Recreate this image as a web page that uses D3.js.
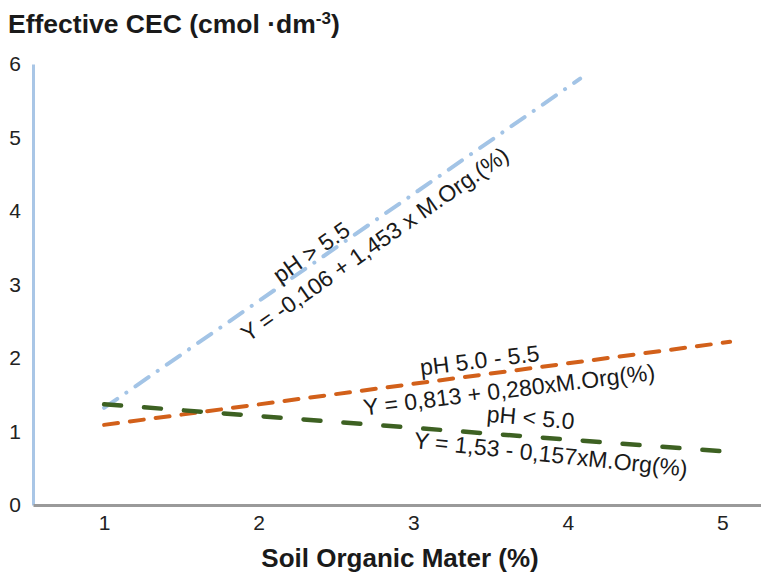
<!DOCTYPE html>
<html>
<head>
<script src="https://d3js.org/d3.v7.min.js"></script>
<style>
  body { margin: 0; background: #fff; }
  svg { font-family: "Liberation Sans", Arial, sans-serif; }
  .tick text { font-size: 21px; fill: #222; }
</style>
</head>
<body>
<svg width="761" height="573"></svg>
<script>
// fitted regression lines, endpoints
const xTicks = [1, 2, 3, 4, 5];
const yTicks = [0, 1, 2, 3, 4, 5, 6];
const phHigh = [{ x: 1, y: 1.32 }, { x: 4.08, y: 5.8 }];
const phMid = [{ x: 1, y: 1.09 }, { x: 5.05, y: 2.22 }];
const phLow = [{ x: 1, y: 1.37 }, { x: 5, y: 0.73 }];

const svg = d3.select("svg");

const x = d3.scaleLinear().domain([0.54, 5.25]).range([33, 761]);
const y = d3.scaleLinear().domain([0, 6]).range([505, 64]);

const line = d3.line().x(d => x(d.x)).y(d => y(d.y));

// axes
const yAxis = svg.append("g")
  .attr("transform", "translate(33,0)")
  .call(d3.axisLeft(y).tickValues(yTicks).tickFormat(d3.format("d")).tickSize(0).tickPadding(12));
yAxis.select(".domain").attr("stroke", "#a9c6e6").attr("stroke-width", 3);

const xAxis = svg.append("g")
  .attr("transform", "translate(0,505)")
  .call(d3.axisBottom(x).tickValues(xTicks).tickFormat(d3.format("d")).tickSize(0).tickPadding(10));
xAxis.select(".domain").attr("stroke", "#9a9a9a").attr("stroke-width", 3);

// series
svg.append("path").datum(phHigh)
  .attr("d", line).attr("fill", "none")
  .attr("stroke", "#a3c4e6").attr("stroke-width", 4)
  .attr("stroke-linecap", "round")
  .attr("stroke-dasharray", "16 11 0.1 11");

svg.append("path").datum(phMid)
  .attr("d", line).attr("fill", "none")
  .attr("stroke", "#d2601a").attr("stroke-width", 4)
  .attr("stroke-linecap", "round")
  .attr("stroke-dasharray", "14 12");

svg.append("path").datum(phLow)
  .attr("d", line).attr("fill", "none")
  .attr("stroke", "#3d6122").attr("stroke-width", 4.5)
  .attr("stroke-linecap", "round")
  .attr("stroke-dasharray", "17 23");

// equation labels
const labels = [
  { t: "pH > 5.5", x: 2.34, y: 3.44, a: -35 },
  { t: "Y = -0,106 + 1,453 x M.Org.(%)", x: 2.75, y: 3.55, a: -35 },
  { t: "pH 5.0 - 5.5", x: 3.43, y: 1.97, a: -7 },
  { t: "Y = 0,813 + 0,280xM.Org(%)", x: 3.62, y: 1.57, a: -7 },
  { t: "pH < 5.0", x: 3.76, y: 1.19, a: 5 },
  { t: "Y = 1,53 - 0,157xM.Org(%)", x: 3.89, y: 0.69, a: 6 }
];

svg.selectAll(".lab").data(labels).join("text")
  .attr("class", "lab")
  .attr("transform", d => `translate(${x(d.x)},${y(d.y)}) rotate(${d.a})`)
  .attr("text-anchor", "middle")
  .attr("dy", "0.35em")
  .style("font-size", "23px")
  .attr("fill", "#1a1a1a")
  .text(d => d.t);

// titles
const title = svg.append("text")
  .attr("x", 8).attr("y", 33)
  .style("font-size", "26.5px").style("font-weight", "bold")
  .attr("fill", "#1a1a1a")
  .text("Effective CEC (cmol \u00b7dm");
title.append("tspan").attr("dy", -9).style("font-size", "17px").text("-3");
title.append("tspan").attr("dy", 9).text(")");

svg.append("text")
  .attr("x", 400).attr("y", 567)
  .attr("text-anchor", "middle")
  .style("font-size", "26px").style("font-weight", "bold")
  .attr("fill", "#1a1a1a")
  .text("Soil Organic Mater (%)");
</script>
</body>
</html>
